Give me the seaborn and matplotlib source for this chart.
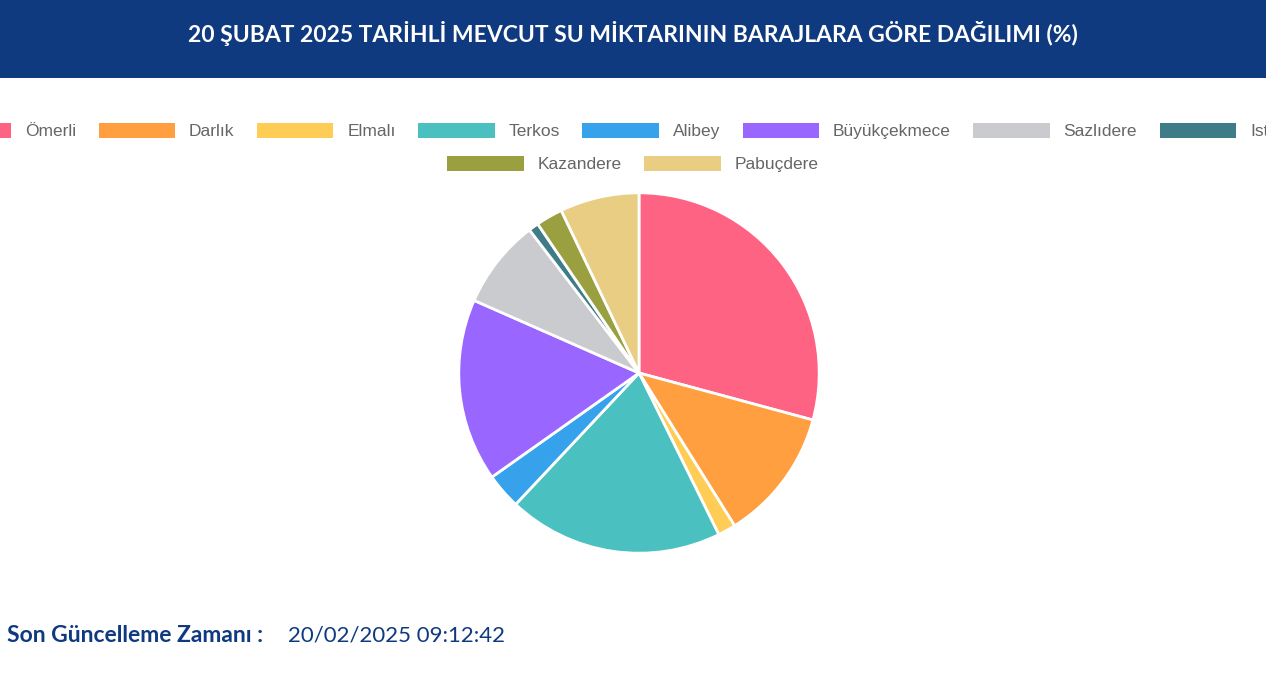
import matplotlib
matplotlib.use("Agg")
import matplotlib.pyplot as plt
import seaborn as sns
from matplotlib.patches import Patch, Rectangle

labels = ["Ömerli", "Darlık", "Elmalı", "Terkos", "Alibey", "Büyükçekmece",
          "Sazlıdere", "Istrancalar", "Kazandere", "Pabuçdere"]
values = [29.2, 11.9, 1.6, 19.3, 3.2, 16.4, 8.0, 0.9, 2.4, 7.1]
colors = sns.color_palette(["#ff6384", "#ff9f40", "#ffcd56", "#4bc0c0", "#36a2eb",
                            "#9966ff", "#c9cbcf", "#3e7c87", "#9aa040", "#e8cd82"])
title = "20 ŞUBAT 2025 TARİHLİ MEVCUT SU MİKTARININ BARAJLARA GÖRE DAĞILIMI (%)"

sns.set_theme(style="white")
plt.rcParams['font.family'] = ['Liberation Sans', 'DejaVu Sans']
W, H = 1266, 673
fig = plt.figure(figsize=(W/100, H/100), dpi=100)
fig.patch.set_facecolor("white")

fig.patches.append(Rectangle((0, 1-78/H), 1, 78/H, transform=fig.transFigure,
                             facecolor="#0f3a80", edgecolor="none", zorder=0))
fig.text(0.5, 1-34/H, title, ha="center", va="center", color="white",
         fontsize=16.5, fontweight="bold", family=["Lato", "DejaVu Sans"])

r = 182
ax = fig.add_axes([(639-r)/W, (H-373-r)/H, 2*r/W, 2*r/H])
ax.pie(values, colors=colors, startangle=90, counterclock=False, radius=1,
       wedgeprops=dict(edgecolor="white", linewidth=2))
ax.set_xlim(-1.01, 1.01); ax.set_ylim(-1.01, 1.01)
ax.set_aspect("equal"); ax.axis("off")

handles = [Patch(facecolor=c, edgecolor="none") for c in colors]
kw = dict(frameon=False, fontsize=12.5, handlelength=4.4, handleheight=1.0,
          columnspacing=1.3, handletextpad=0.8, labelcolor="#666666",
          loc="center", prop={"family": "Liberation Sans", "size": 12.5})
kw.pop("fontsize")
fig.legend(handles[:8], labels[:8], ncol=8, bbox_to_anchor=(0.5, 1-131/H), **kw)
fig.legend(handles[8:], labels[8:], ncol=2, bbox_to_anchor=(0.5, 1-164/H), **kw)

fig.text(7/W, 1-636/H, "Son Güncelleme Zamanı : ", ha="left", va="center",
         color="#0f3a80", fontsize=16.5, fontweight="bold", family=["Lato", "DejaVu Sans"])
fig.text(288/W, 1-636/H, "20/02/2025 09:12:42", ha="left", va="center",
         color="#0f3a80", fontsize=16, family=["Lato", "DejaVu Sans"])

fig.savefig("out.png", dpi=100)
